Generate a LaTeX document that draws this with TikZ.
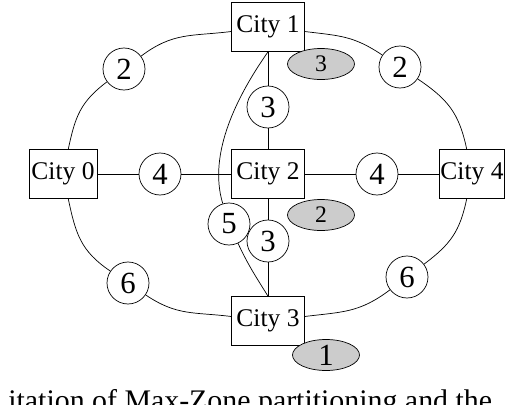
\documentclass[tikz,border=0pt]{standalone}
\usepackage{fontspec}
\setmainfont{Liberation Serif}
\usetikzlibrary{shapes.geometric}
\definecolor{loadgray}{gray}{0.8}

\begin{document}
\begin{tikzpicture}[x=0.2mm, y=0.2mm,
        city/.style = {draw, fill=white, minimum width=14.6mm, minimum height=9.8mm, inner sep=0pt, font=\fontsize{14.5}{16}\selectfont},
        weight/.style = {draw, circle, fill=white, minimum size=8.4mm, inner sep=0pt, font=\fontsize{17.5}{19}\selectfont},
        load/.style = {draw, ellipse, fill=loadgray, minimum width=13.4mm, minimum height=6.2mm, inner sep=0pt}]
            \useasboundingbox (0,0) rectangle (508,404);
            % cities
            \node[city] (c1) at (268,377) {City 1};
            \node[city, minimum width=13.6mm] (c0) at (63,230) {City 0};
            \node[city] (c2) at (268,230) {City 2};
            \node[city, minimum width=13mm] (c4) at (472,230) {City 4};
            \node[city] (c3) at (268,83) {City 3};
            % weights on the ring
            \node[weight] (w01) at (124,335) {2};
            \node[weight] (w14) at (400,337) {2};
            \node[weight] (w03) at (128,121) {6};
            \node[weight] (w34) at (407,127) {6};
            % weights inside
            \node[weight] (w12) at (268,297) {3};
            \node[weight] (w02) at (160,230) {4};
            \node[weight] (w24) at (377,230) {4};
            \node[weight] (w13) at (229,180) {5};
            \node[weight] (w23) at (268,163) {3};
            % loads
            \node[load, font=\fontsize{13.5}{15}\selectfont] (l1) at (321,340) {3};
            \node[load, font=\fontsize{13.5}{15}\selectfont] (l2) at (321,189) {2};
            \node[load, font=\fontsize{17.5}{19}\selectfont] (l3) at (326,49) {1};
            % ring
            \path[draw](c1)to[out=187, in=37, looseness=1.1](w01)to[out=217, in=78, looseness=1.1](c0);
            \path[draw](c1)to[out=-7, in=146, looseness=1.1](w14)to[out=-34, in=102, looseness=1.1](c4);
            \path[draw](c0)to[out=-78, in=146, looseness=1.1](w03)to[out=-34, in=173, looseness=1.1](c3);
            \path[draw](c4)to[out=-102, in=37, looseness=1.1](w34)to[out=217, in=7, looseness=1.1](c3);
            % spokes
            \path[draw](c1)--(w12)--(c2);
            \path[draw](c0)--(w02)--(c2)--(w24)--(c4);
            \path[draw](c2)--(w23)--(c3);
            \path[draw](c1.south)to[out=235, in=107, looseness=0.85](w13)to[out=-65, in=122](c3.north);
            % caption, cut at the bottom
            \node[anchor=base west, inner sep=0pt, font=\fontsize{17}{20}\selectfont] (cap) at (8,-6) {itation of Max-Zone partitioning and the};
        \end{tikzpicture}
\end{document}
